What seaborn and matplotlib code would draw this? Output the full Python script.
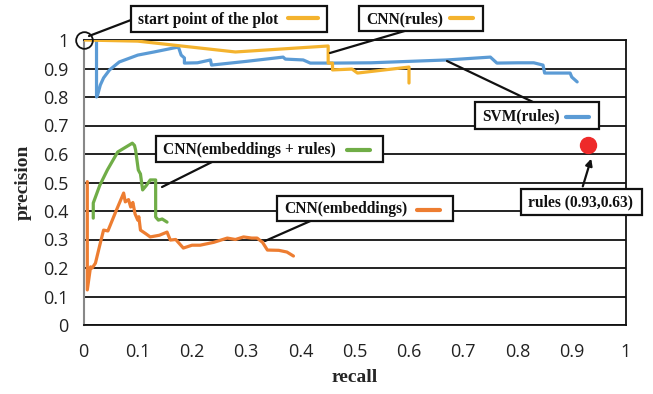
import matplotlib
matplotlib.use("Agg")
import matplotlib.pyplot as plt
import seaborn as sns
import pandas as pd
from matplotlib.patches import Rectangle, FancyArrowPatch
from matplotlib.lines import Line2D

# ---- data ----
svm_recall = [0.024, 0.024, 0.026, 0.031, 0.037, 0.048, 0.066, 0.1, 0.13, 0.166, 0.175,
              0.18, 0.186, 0.186, 0.21, 0.234, 0.236, 0.3, 0.368, 0.372, 0.405, 0.418,
              0.46, 0.53, 0.67, 0.75, 0.762, 0.8, 0.83, 0.847, 0.85, 0.897, 0.9, 0.91]
svm_precision = [1.0, 0.8, 0.807, 0.842, 0.867, 0.895, 0.923, 0.947, 0.958, 0.972, 0.975,
                 0.947, 0.937, 0.919, 0.92, 0.93, 0.912, 0.925, 0.94, 0.933, 0.93, 0.919,
                 0.919, 0.92, 0.93, 0.94, 0.919, 0.92, 0.92, 0.912, 0.884, 0.884, 0.87, 0.853]

cnn_rules_recall = [0.0, 0.1, 0.28, 0.451, 0.451, 0.459, 0.459, 0.495, 0.505, 0.6, 0.6]
cnn_rules_precision = [1.0, 0.996, 0.958, 0.979, 0.919, 0.919, 0.895, 0.898, 0.884, 0.905, 0.849]

cnn_er_recall = [0.018, 0.018, 0.03, 0.044, 0.063, 0.09, 0.094, 0.096, 0.101, 0.105, 0.109,
                 0.116, 0.123, 0.133, 0.133, 0.138, 0.145, 0.154]
cnn_er_precision = [0.375, 0.428, 0.49, 0.544, 0.607, 0.638, 0.63, 0.614, 0.544, 0.53, 0.474,
                    0.49, 0.509, 0.509, 0.379, 0.368, 0.372, 0.361]

cnn_emb_recall = [0.007, 0.007, 0.013, 0.016, 0.022, 0.03, 0.037, 0.045, 0.06, 0.074, 0.077,
                  0.083, 0.087, 0.091, 0.095, 0.1, 0.102, 0.105, 0.115, 0.123, 0.14, 0.154,
                  0.16, 0.17, 0.184, 0.2, 0.215, 0.24, 0.265, 0.28, 0.295, 0.31, 0.32, 0.33,
                  0.339, 0.36, 0.375, 0.387]
cnn_emb_precision = [0.503, 0.123, 0.204, 0.2, 0.217, 0.28, 0.333, 0.33, 0.4, 0.463, 0.432,
                     0.44, 0.414, 0.43, 0.39, 0.368, 0.38, 0.333, 0.32, 0.309, 0.315, 0.326,
                     0.298, 0.3, 0.27, 0.28, 0.28, 0.29, 0.305, 0.3, 0.309, 0.305, 0.305, 0.29,
                     0.263, 0.262, 0.256, 0.242]

rules_point = (0.93, 0.63)
start_point = (0.0, 1.0)

x_ticks = [0, 0.1, 0.2, 0.3, 0.4, 0.5, 0.6, 0.7, 0.8, 0.9, 1]
x_tick_labels = ["0", "0.1", "0.2", "0.3", "0.4", "0.5", "0.6", "0.7", "0.8", "0.9", "1"]
y_ticks = x_ticks
y_tick_labels = x_tick_labels

C_SVM = "#5B9BD5"
C_CNNR = "#F4B32E"
C_ER = "#70AD47"
C_EMB = "#ED7D31"
C_DOT = "#EE2A2A"

sns.set_style("white")
plt.rcParams["font.family"] = ["DejaVu Sans"]

W, H = 653, 394
fig = plt.figure(figsize=(W / 100, H / 100), dpi=100)
ax = fig.add_axes([83.5 / W, 1 - 325 / H, (626 - 83.5) / W, (325 - 40) / H])

def px(x, y):
    return (x / W, 1 - y / H)

for xs, ys, c in [(cnn_emb_recall, cnn_emb_precision, C_EMB),
                  (cnn_er_recall, cnn_er_precision, C_ER),
                  (svm_recall, svm_precision, C_SVM),
                  (cnn_rules_recall, cnn_rules_precision, C_CNNR)]:
    df = pd.DataFrame({"recall": xs, "precision": ys})
    sns.lineplot(data=df, x="recall", y="precision", sort=False, estimator=None,
                 color=c, lw=2.3, ax=ax, zorder=3)

ax.plot([rules_point[0]], [rules_point[1]], "o", color=C_DOT, ms=11.5, zorder=4, clip_on=False)
ax.plot([start_point[0]], [start_point[1]], "o", mfc="none", mec="#111111", mew=1.3, ms=12,
        zorder=5, clip_on=False)

ax.set_xlim(0, 1)
ax.set_ylim(0, 1)
ax.set_xticks(x_ticks)
ax.set_xticklabels(x_tick_labels)
ax.set_yticks(y_ticks)
ax.set_yticklabels(y_tick_labels)
ax.tick_params(axis="both", length=0, labelsize=13, colors="#222222")
ax.tick_params(axis="y", pad=11)
ax.tick_params(axis="x", pad=13)
for t in ax.get_xticklabels() + ax.get_yticklabels():
    t.set_family("Open Sans")
ax.grid(axis="y", color="#111111", lw=1.3)
ax.grid(axis="x", visible=False)
ax.set_axisbelow(True)
for s in ["top", "right", "bottom"]:
    ax.spines[s].set_color("#111111")
    ax.spines[s].set_linewidth(1.3)
ax.spines["left"].set_color("#888888")
ax.spines["left"].set_linewidth(1.5)

ax.set_xlabel("recall", family="Liberation Serif", weight="bold", fontsize=14)
ax.set_ylabel("precision", family="Liberation Serif", weight="bold", fontsize=14)
ax.xaxis.set_label_coords((354.5 - 83.5) / (626 - 83.5), -(369 - 325) / (325 - 40))
ax.yaxis.set_label_coords(-(83.5 - 32) / (626 - 83.5), 0.5)

# ---- annotation boxes (pixel positions) ----
def box(x0, y0, x1, y1, text, seg=None, segc=None):
    fig.add_artist(Rectangle(px(x0, y1), (x1 - x0) / W, (y1 - y0) / H, transform=fig.transFigure,
                             facecolor="white", edgecolor="#111111", lw=1.6, zorder=10))
    fig.text(*px(x0 + 7, (y0 + y1) / 2 + 0.5), text, family="Liberation Serif", weight="bold",
             fontsize=11.2, ha="left", va="center", zorder=11, color="#111111")
    if seg is not None:
        (sx0, sx1, sy) = seg
        fig.add_artist(Line2D([sx0 / W, sx1 / W], [1 - sy / H, 1 - sy / H], transform=fig.transFigure,
                              color=segc, lw=3, zorder=11))

def conn(x0, y0, x1, y1, arrow=False):
    if arrow:
        fig.add_artist(FancyArrowPatch(px(x0, y0), px(x1, y1), transform=fig.transFigure,
                       arrowstyle="-|>", mutation_scale=10, color="#111111", lw=1.6, zorder=9))
    else:
        fig.add_artist(Line2D([x0 / W, x1 / W], [1 - y0 / H, 1 - y1 / H], transform=fig.transFigure,
                              color="#111111", lw=1.6, zorder=9))

conn(131, 20, 89, 36)
box(131, 6, 327, 32, "start point of the plot", (288, 318, 18), C_CNNR)

conn(408, 30, 330, 53)
box(359, 6, 483, 31, "CNN(rules)", (450, 473, 18), C_CNNR)

conn(533, 102, 447, 61)
box(475, 102, 599, 129, "SVM(rules)", (566, 589, 117), C_SVM)

conn(212, 162, 162, 187)
box(156, 136, 383, 162, "CNN(embeddings + rules)", (347, 370, 150), C_ER)

conn(315, 219, 265, 241)
box(277, 196, 453, 221, "CNN(embeddings)", (417, 440, 210), C_EMB)

conn(582, 189, 592, 156, arrow=True)
box(521, 189, 642, 215, "rules (0.93,0.63)")

fig.savefig("out.png", dpi=100)
